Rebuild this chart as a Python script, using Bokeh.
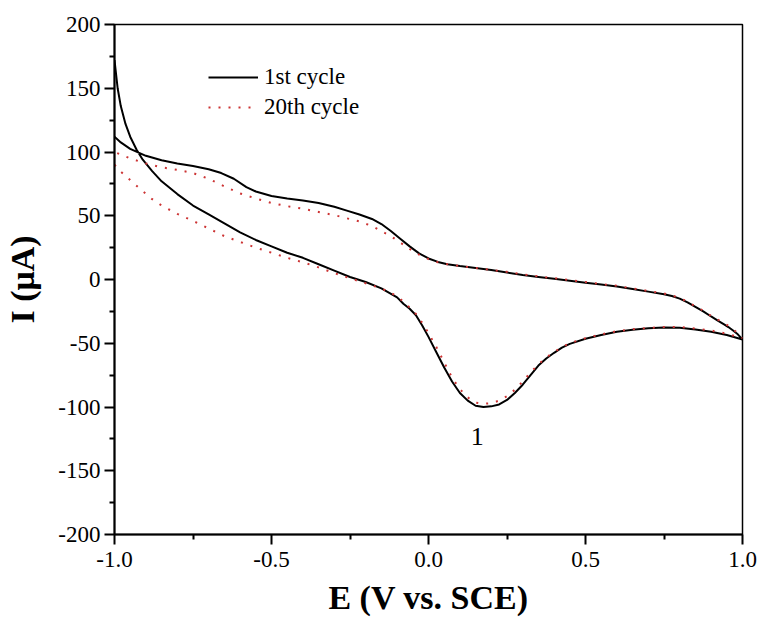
from bokeh.plotting import figure
from bokeh.models import (Range1d, FixedTicker, NumeralTickFormatter, PrintfTickFormatter,
                          Legend, LegendItem, Label)
from bokeh.embed import file_html
from bokeh.resources import INLINE

# ---- data ----
# 1st cycle: forward scan (-1.0 -> 1.0) then reverse scan (1.0 -> -1.0)
c1_fwd_E = [-1.000, -0.990, -0.980, -0.965, -0.950, -0.930, -0.910, -0.880, -0.850, -0.800,
            -0.750, -0.700, -0.650, -0.600, -0.550, -0.500, -0.450, -0.400, -0.350, -0.300,
            -0.250, -0.200, -0.150, -0.100, -0.080, -0.060, -0.040, -0.020, 0.000, 0.025,
            0.050, 0.075, 0.100, 0.125, 0.150, 0.175, 0.200, 0.225, 0.250, 0.275,
            0.300, 0.325, 0.350, 0.375, 0.400, 0.425, 0.450, 0.500, 0.550, 0.600,
            0.650, 0.700, 0.750, 0.800, 0.850, 0.900, 0.950, 1.000]
c1_fwd_I = [172, 150, 136, 122, 112, 102, 94, 85, 77, 67,
            58, 51, 44, 37, 31, 26, 21, 17, 12, 7,
            2, -2, -7, -14, -19, -23, -28, -36, -45, -57,
            -69, -80, -89, -95, -99, -100, -99.5, -98, -94.5, -89,
            -82.5, -75, -67.5, -62, -57.5, -53.5, -50.5, -46.5, -43.5, -41,
            -39.5, -38.3, -37.7, -37.8, -39.3, -41, -43.5, -47]
c1_rev_E = [1.000, 0.985, 0.970, 0.955, 0.940, 0.920, 0.900, 0.875, 0.850, 0.825,
            0.800, 0.775, 0.750, 0.700, 0.650, 0.600,
            0.550, 0.500, 0.450, 0.400, 0.350, 0.300, 0.250, 0.200, 0.150, 0.100,
            0.060, 0.030, 0.000, -0.030, -0.060, -0.090, -0.120, -0.150, -0.180, -0.220, -0.260,
            -0.300, -0.350, -0.400, -0.450, -0.500, -0.550, -0.580, -0.620, -0.660, -0.700,
            -0.750, -0.800, -0.850, -0.900, -0.950, -0.980, -1.000]
c1_rev_I = [-47, -43, -40, -37.3, -35, -32, -29, -25, -21.5, -18,
            -15, -13, -11.5, -9.5, -7.5, -5.5,
            -4, -2.5, -1, 0.5, 2, 3.5, 5.5, 7.5, 9, 10.5,
            12, 13.8, 16.5, 20.5, 26, 32, 38, 43.5, 47.5, 51, 54,
            57, 60, 62, 63.5, 65.5, 69, 72.5, 79, 83.5, 86.5,
            89, 91, 93.5, 97, 102.5, 107.5, 112]

# 20th cycle
c20_fwd_E = [-1.000, -0.982, -0.950, -0.918, -0.880, -0.850, -0.800, -0.750, -0.700, -0.650,
             -0.600, -0.550, -0.500, -0.450, -0.400, -0.350, -0.300, -0.250, -0.200, -0.150,
             -0.100, -0.080, -0.060, -0.040, -0.020, 0.000, 0.025, 0.050, 0.075, 0.100,
             0.125, 0.150, 0.175, 0.200, 0.225, 0.250, 0.275, 0.300, 0.325, 0.350,
             0.375, 0.400, 0.425, 0.450, 0.500, 0.550, 0.600, 0.650, 0.700, 0.750,
             0.800, 0.850, 0.900, 0.950, 1.000]
c20_fwd_I = [90, 85, 78, 71, 63, 58, 51.5, 46, 40, 34,
             29.5, 25, 21, 17, 13.5, 9.5, 5, 1, -3, -7,
             -13, -17.5, -22, -27, -34, -42, -53, -65, -77, -86,
             -92.5, -96.5, -97.5, -97, -95, -91.5, -86.5, -80, -73, -66.5,
             -61, -57, -53, -50, -46, -43, -40.5, -39, -38, -37.3,
             -37.3, -38.5, -40, -42.5, -46]
c20_rev_E = [1.000, 0.985, 0.970, 0.955, 0.940, 0.920, 0.900, 0.875, 0.850, 0.825,
             0.800, 0.775, 0.750, 0.700, 0.650, 0.600,
             0.550, 0.500, 0.450, 0.400, 0.350, 0.300, 0.250, 0.200, 0.150, 0.100,
             0.060, 0.030, 0.000, -0.030, -0.060, -0.090, -0.120, -0.150, -0.180, -0.220, -0.260,
             -0.300, -0.350, -0.400, -0.450, -0.500, -0.550, -0.600, -0.650, -0.700, -0.750,
             -0.800, -0.850, -0.900, -0.950, -1.000]
c20_rev_I = [-46, -42, -39, -36.3, -34, -31.3, -28.5, -24.5, -21, -17.5,
             -14.5, -12.5, -11, -9, -7, -5,
             -3.5, -2, -0.5, 1, 2.5, 4, 6, 7.5, 9, 10.5,
             12, 13.5, 16, 19.5, 24, 29, 34, 38, 42, 45.5, 48,
             50.5, 53, 55.5, 57.5, 60, 63.5, 67.5, 73, 79, 83.5,
             86, 88, 91, 95, 100]

series_names = ["1st cycle", "20th cycle"]
x_ticks = [-1.0, -0.5, 0.0, 0.5, 1.0]
y_ticks = [-200, -150, -100, -50, 0, 50, 100, 150, 200]
peak_label = "1"
peak_label_pos = (0.155, -123)

FONT = "'Liberation Serif', 'Times New Roman', serif"

p = figure(width=759, height=618, output_backend="svg", toolbar_location=None,
           x_range=Range1d(-1.0, 1.0), y_range=Range1d(-200, 200),
           min_border_left=114, min_border_right=17, min_border_top=24, min_border_bottom=83)
p.grid.visible = False
p.background_fill_color = "white"
p.border_fill_color = "white"
p.outline_line_color = "black"
p.outline_line_width = 1.5
p.outline_line_alpha = 1.0

r1 = p.line(c1_fwd_E + c1_rev_E, c1_fwd_I + c1_rev_I, line_color="black", line_width=2)
r20 = p.line(c20_fwd_E + c20_rev_E, c20_fwd_I + c20_rev_I, line_color="#cc3333",
             line_width=2, line_dash="2 8")

for ax in (p.xaxis[0], p.yaxis[0]):
    ax.axis_line_width = 2
    ax.axis_line_color = "black"
    ax.major_tick_line_color = "black"
    ax.minor_tick_line_color = "black"
    ax.major_tick_line_width = 2
    ax.minor_tick_line_width = 2
    ax.major_tick_in = 0
    ax.major_tick_out = 10
    ax.minor_tick_in = 0
    ax.minor_tick_out = 5
    ax.major_label_text_font = FONT
    ax.major_label_text_font_size = "23px"
    ax.major_label_text_color = "black"
    ax.axis_label_text_font = FONT
    ax.axis_label_text_font_style = "bold"
    ax.axis_label_text_font_size = "34px"
    ax.axis_label_text_color = "black"

p.xaxis[0].ticker = FixedTicker(ticks=x_ticks, minor_ticks=[-0.75, -0.25, 0.25, 0.75])
p.xaxis[0].formatter = NumeralTickFormatter(format="0.0")
p.xaxis[0].major_label_standoff = 7
p.xaxis[0].axis_label = "E (V vs. SCE)"
p.xaxis[0].axis_label_standoff = 9

p.yaxis[0].ticker = FixedTicker(ticks=y_ticks, minor_ticks=[-175, -125, -75, -25, 25, 75, 125, 175])
p.yaxis[0].formatter = PrintfTickFormatter(format="%d")
p.yaxis[0].major_label_standoff = 4
p.yaxis[0].axis_label = "I (\u03bcA)"
p.yaxis[0].axis_label_standoff = 14

legend = Legend(items=[LegendItem(label=series_names[0], renderers=[r1]),
                       LegendItem(label=series_names[1], renderers=[r20])],
                location=(94, 412), orientation="vertical")
legend.label_text_font = FONT
legend.label_text_font_size = "23px"
legend.label_text_color = "black"
legend.glyph_width = 50
legend.glyph_height = 30
legend.label_height = 30
legend.label_standoff = 6
legend.spacing = 0
legend.padding = 0
legend.margin = 0
legend.border_line_alpha = 0
legend.background_fill_alpha = 0
p.add_layout(legend)

p.add_layout(Label(x=peak_label_pos[0], y=peak_label_pos[1], text=peak_label,
                   text_font=FONT, text_font_size="26px", text_align="center",
                   text_baseline="middle", text_color="black"))

open("out.html", "w").write(file_html(p, INLINE))
